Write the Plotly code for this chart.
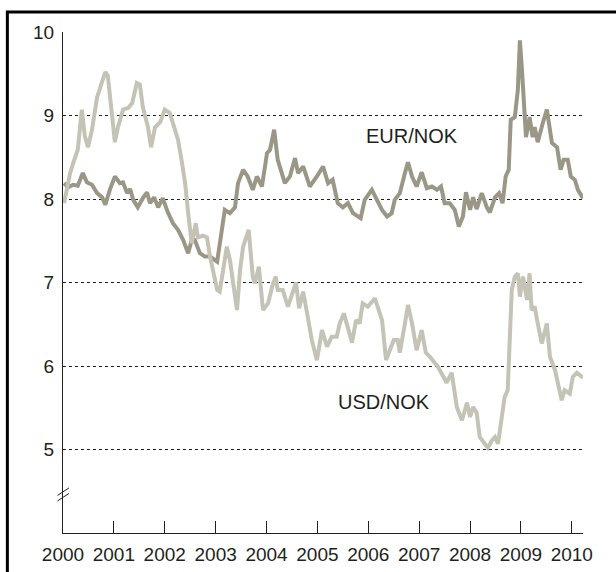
import plotly.graph_objects as go

# USD/NOK (light line): decimal year, value
usd_t = [2000.02, 2000.14, 2000.20, 2000.29, 2000.37, 2000.43, 2000.49, 2000.57, 2000.67, 2000.73,
         2000.83, 2000.88, 2000.92, 2001.02, 2001.08, 2001.18, 2001.28, 2001.36, 2001.45, 2001.51,
         2001.57, 2001.67, 2001.73, 2001.81, 2001.91, 2002.00, 2002.10, 2002.20, 2002.26, 2002.34,
         2002.40, 2002.46, 2002.53, 2002.61, 2002.65, 2002.75, 2002.83, 2002.89, 2003.03, 2003.08,
         2003.14, 2003.22, 2003.28, 2003.42, 2003.48, 2003.54, 2003.65, 2003.73, 2003.77, 2003.85,
         2003.93, 2004.03, 2004.11, 2004.18, 2004.22, 2004.32, 2004.42, 2004.50, 2004.58, 2004.64,
         2004.72, 2004.81, 2004.89, 2004.99, 2005.09, 2005.19, 2005.28, 2005.38, 2005.44, 2005.52,
         2005.60, 2005.68, 2005.76, 2005.83, 2005.89, 2005.99, 2006.13, 2006.27, 2006.35, 2006.50,
         2006.58, 2006.62, 2006.72, 2006.78, 2006.86, 2006.95, 2007.05, 2007.13, 2007.21, 2007.37,
         2007.54, 2007.64, 2007.74, 2007.84, 2007.94, 2008.00, 2008.06, 2008.13, 2008.19, 2008.29,
         2008.35, 2008.43, 2008.49, 2008.55, 2008.62, 2008.68, 2008.74, 2008.78, 2008.82, 2008.88,
         2008.94, 2008.98, 2009.04, 2009.12, 2009.17, 2009.21, 2009.27, 2009.33, 2009.41, 2009.51,
         2009.57, 2009.67, 2009.72, 2009.80, 2009.86, 2009.96, 2010.02, 2010.10, 2010.16, 2010.22]
usd_v = [7.95, 8.31, 8.43, 8.59, 9.07, 8.75, 8.62, 8.83, 9.22, 9.34,
         9.52, 9.48, 9.22, 8.68, 8.86, 9.07, 9.09, 9.15, 9.39, 9.37,
         9.10, 8.86, 8.62, 8.86, 8.92, 9.07, 9.03, 8.83, 8.71, 8.43,
         8.19, 7.83, 7.47, 7.71, 7.54, 7.56, 7.54, 7.31, 6.91, 6.89,
         7.11, 7.43, 7.27, 6.67, 7.15, 7.43, 7.63, 7.07, 6.99, 7.19,
         6.67, 6.75, 6.95, 7.07, 6.91, 6.91, 6.71, 6.87, 7.00, 6.69,
         6.89, 6.59, 6.31, 6.07, 6.43, 6.23, 6.35, 6.35, 6.51, 6.63,
         6.43, 6.28, 6.55, 6.51, 6.75, 6.71, 6.81, 6.55, 6.07, 6.31,
         6.31, 6.16, 6.51, 6.73, 6.51, 6.19, 6.43, 6.16, 6.11, 5.99,
         5.80, 5.92, 5.51, 5.35, 5.56, 5.39, 5.51, 5.44, 5.15, 5.07,
         5.02, 5.11, 5.15, 5.07, 5.39, 5.63, 5.71, 6.43, 6.91, 7.07,
         7.11, 6.83, 7.07, 6.79, 7.11, 6.67, 6.71, 6.51, 6.27, 6.51,
         6.11, 5.95, 5.80, 5.59, 5.71, 5.67, 5.87, 5.92, 5.89, 5.86]

# EUR/NOK (dark line): decimal year, value
eur_t = [2000.02, 2000.10, 2000.20, 2000.29, 2000.39, 2000.47, 2000.57, 2000.67, 2000.77, 2000.83,
         2000.92, 2001.02, 2001.12, 2001.18, 2001.26, 2001.32, 2001.38, 2001.47, 2001.57, 2001.65,
         2001.71, 2001.79, 2001.87, 2001.96, 2002.06, 2002.16, 2002.26, 2002.36, 2002.46, 2002.53,
         2002.59, 2002.69, 2002.79, 2002.89, 2003.03, 2003.08, 2003.18, 2003.28, 2003.38, 2003.44,
         2003.54, 2003.63, 2003.73, 2003.81, 2003.91, 2004.01, 2004.07, 2004.15, 2004.22, 2004.36,
         2004.46, 2004.56, 2004.62, 2004.72, 2004.85, 2004.99, 2005.11, 2005.21, 2005.30, 2005.40,
         2005.50, 2005.60, 2005.70, 2005.85, 2005.93, 2006.07, 2006.17, 2006.27, 2006.37, 2006.46,
         2006.52, 2006.62, 2006.72, 2006.78, 2006.86, 2006.95, 2007.05, 2007.15, 2007.25, 2007.35,
         2007.43, 2007.50, 2007.60, 2007.70, 2007.78, 2007.86, 2007.92, 2008.00, 2008.06, 2008.13,
         2008.23, 2008.33, 2008.39, 2008.49, 2008.57, 2008.64, 2008.70, 2008.76, 2008.80, 2008.88,
         2008.94, 2008.98, 2009.02, 2009.06, 2009.10, 2009.17, 2009.23, 2009.27, 2009.33, 2009.43,
         2009.51, 2009.55, 2009.61, 2009.71, 2009.78, 2009.84, 2009.92, 2009.98, 2010.06, 2010.12,
         2010.22]
eur_v = [8.19, 8.14, 8.17, 8.16, 8.31, 8.20, 8.17, 8.07, 8.02, 7.93,
         8.11, 8.27, 8.19, 8.20, 8.07, 8.12, 7.99, 7.90, 8.01, 8.08,
         7.95, 8.02, 7.90, 8.01, 7.84, 7.71, 7.63, 7.51, 7.35, 7.51,
         7.51, 7.35, 7.31, 7.31, 7.25, 7.47, 7.87, 7.83, 7.90, 8.19,
         8.35, 8.27, 8.11, 8.27, 8.15, 8.55, 8.59, 8.83, 8.47, 8.19,
         8.27, 8.49, 8.31, 8.39, 8.15, 8.27, 8.39, 8.19, 8.23, 7.95,
         7.90, 7.95, 7.83, 7.77, 7.99, 8.11, 7.99, 7.87, 7.79, 7.83,
         7.99, 8.07, 8.31, 8.44, 8.27, 8.15, 8.32, 8.13, 8.15, 8.11,
         8.15, 7.95, 7.95, 7.87, 7.67, 7.79, 8.08, 7.87, 8.02, 7.88,
         8.07, 7.90, 7.84, 8.02, 8.07, 7.95, 8.27, 8.35, 8.95, 8.98,
         9.31, 9.90, 9.55, 9.22, 8.74, 8.98, 8.74, 8.86, 8.68, 8.91,
         9.07, 8.91, 8.67, 8.62, 8.35, 8.47, 8.47, 8.27, 8.23, 8.11,
         8.01]

year_ticks = list(range(2000, 2011))
value_ticks = [5, 6, 7, 8, 9, 10]

EUR_COLOR = "#9b9787"
USD_COLOR = "#c5c3b5"
TEXT_COLOR = "#231f20"
FONT = "Liberation Sans, Arial, sans-serif"

fig = go.Figure()
fig.add_trace(go.Scatter(x=eur_t, y=eur_v, mode="lines", name="EUR/NOK",
                         line=dict(color=EUR_COLOR, width=4)))
fig.add_trace(go.Scatter(x=usd_t, y=usd_v, mode="lines", name="USD/NOK",
                         line=dict(color=USD_COLOR, width=4)))

fig.update_layout(
    width=616, height=572, autosize=False,
    margin=dict(l=63, r=33, t=32, b=39),
    paper_bgcolor="white", plot_bgcolor="white",
    showlegend=False,
    font=dict(family=FONT, size=19, color=TEXT_COLOR),
    xaxis=dict(range=[2000, 2010.22], tickmode="array", tickvals=year_ticks,
               ticktext=[str(y) for y in year_ticks], automargin=False,
               showgrid=False, zeroline=False, showline=True, linecolor=TEXT_COLOR,
               linewidth=1, ticks="inside", ticklen=12, tickcolor=TEXT_COLOR,
               tickwidth=1, ticklabelstandoff=4),
    yaxis=dict(range=[4, 10], tickmode="array", tickvals=value_ticks, automargin=False,
               showgrid=True, gridcolor=TEXT_COLOR, griddash="dot", gridwidth=1,
               zeroline=False, showline=True, linecolor=TEXT_COLOR, linewidth=1,
               ticks="", ticklabelstandoff=4),
)

# outer frame
fig.add_shape(type="rect", xref="paper", yref="paper",
              x0=-0.107, x1=1.1, y0=-0.12, y1=1.04,
              line=dict(color="black", width=3), fillcolor="rgba(0,0,0,0)", layer="above")

# axis break marks
for dy in (0.0, 0.011):
    fig.add_shape(type="line", xref="paper", yref="paper",
                  x0=-0.0105, y0=0.064 + dy, x1=0.0115, y1=0.079 + dy,
                  line=dict(color=TEXT_COLOR, width=1))

fig.add_annotation(x=2006.86, y=8.76, text="EUR/NOK", showarrow=False,
                   font=dict(size=20, color=TEXT_COLOR, family=FONT))
fig.add_annotation(x=2006.30, y=5.57, text="USD/NOK", showarrow=False,
                   font=dict(size=20, color=TEXT_COLOR, family=FONT))

fig.write_html("out.html",
               config={"responsive": False, "displayModeBar": False},
               post_script="document.body.style.margin='0';document.body.style.overflow='hidden';")
